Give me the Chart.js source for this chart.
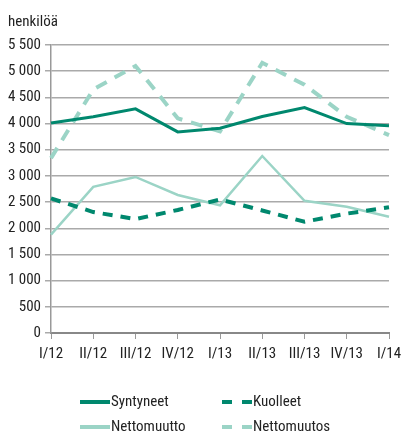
<!DOCTYPE html>
<html>
<head>
<meta charset="utf-8">
<script src="https://cdn.jsdelivr.net/npm/chart.js@4/dist/chart.umd.min.js"></script>
<style>
  html, body { margin: 0; padding: 0; background: #fff; }
  #wrap { position: relative; width: 401px; height: 435px; }
</style>
</head>
<body>
<div id="wrap"><canvas id="c" width="401" height="435"></canvas></div>
<script>
const categories = ['I/12','II/12','III/12','IV/12','I/13','II/13','III/13','IV/13','I/14'];
const syntyneet   = [4010, 4130, 4280, 3840, 3910, 4135, 4305, 4000, 3960];
const kuolleet    = [2570, 2310, 2175, 2350, 2550, 2340, 2125, 2280, 2400];
const nettomuutto = [1880, 2790, 2980, 2635, 2440, 3380, 2525, 2410, 2220];
const nettomuutos = [3340, 4650, 5100, 4100, 3850, 5160, 4740, 4130, 3780];
const seriesNames = ['Syntyneet', 'Kuolleet', 'Nettomuutto', 'Nettomuutos'];
const yTitle = 'henkilöä';

const DARK = '#00886e';
const LIGHT = '#9bd4c6';
const FONT = '"Roboto Condensed", "Liberation Sans Narrow", sans-serif';

function fmt(v) {
  if (v >= 1000) return Math.floor(v / 1000) + ' ' + String(v % 1000).padStart(3, '0');
  return String(v);
}

const extras = {
  id: 'extras',
  afterDraw(chart) {
    const ctx = chart.ctx;
    ctx.save();
    ctx.fillStyle = '#222';
    ctx.font = '15px ' + FONT;
    ctx.textBaseline = 'middle';
    ctx.textAlign = 'left';
    ctx.fillText(yTitle, 8, 22);
    // legend
    const pos = [[80, 402], [222, 402], [80, 427], [222, 427]];
    chart.data.datasets.forEach((ds, i) => {
      const [x, y] = pos[i];
      ctx.beginPath();
      ctx.strokeStyle = ds.borderColor;
      ctx.lineWidth = 4;
      ctx.setLineDash(ds.borderDash && ds.borderDash.length ? [10, 10] : []);
      ctx.moveTo(x, y);
      ctx.lineTo(x + 30, y);
      ctx.stroke();
      ctx.setLineDash([]);
      ctx.fillStyle = '#222';
      ctx.font = '15px ' + FONT;
      ctx.fillText(ds.label, x + 31, y);
    });
    ctx.restore();
  }
};

new Chart(document.getElementById('c'), {
  type: 'line',
  data: {
    labels: categories,
    datasets: [
      { label: seriesNames[0], data: syntyneet, borderColor: DARK, borderWidth: 3, borderDash: [] },
      { label: seriesNames[1], data: kuolleet, borderColor: DARK, borderWidth: 4, borderDash: [10, 8] },
      { label: seriesNames[2], data: nettomuutto, borderColor: LIGHT, borderWidth: 2.5, borderDash: [] },
      { label: seriesNames[3], data: nettomuutos, borderColor: LIGHT, borderWidth: 4, borderDash: [12, 9] }
    ]
  },
  options: {
    responsive: false,
    animation: false,
    devicePixelRatio: 1,
    elements: { point: { radius: 0 }, line: { tension: 0, fill: false, borderCapStyle: 'butt' } },
    layout: { padding: { left: 0, right: 12, top: 45, bottom: 72 } },
    plugins: { legend: { display: false }, tooltip: { enabled: false } },
    scales: {
      x: {
        offset: false,
        grid: { drawOnChartArea: false, drawTicks: true, tickLength: 6, color: '#999', lineWidth: 1 },
        border: { color: '#888', width: 2 },
        ticks: { color: '#222', font: { family: FONT, size: 15 }, padding: 6, maxRotation: 0, autoSkip: false },
        afterFit(s) { s.height = 30; s.paddingLeft = 0; s.paddingRight = 0; }
      },
      y: {
        min: 0, max: 5500,
        grid: { color: '#aaa', lineWidth: 1.5, tickLength: 6 },
        border: { color: '#999', width: 1.5 },
        ticks: { stepSize: 500, color: '#222', font: { family: FONT, size: 15 }, padding: 4, callback: v => fmt(v) },
        afterFit(s) { s.width = 51; s.paddingTop = 0; s.paddingBottom = 0; }
      }
    }
  },
  plugins: [extras]
});
</script>
</body>
</html>
